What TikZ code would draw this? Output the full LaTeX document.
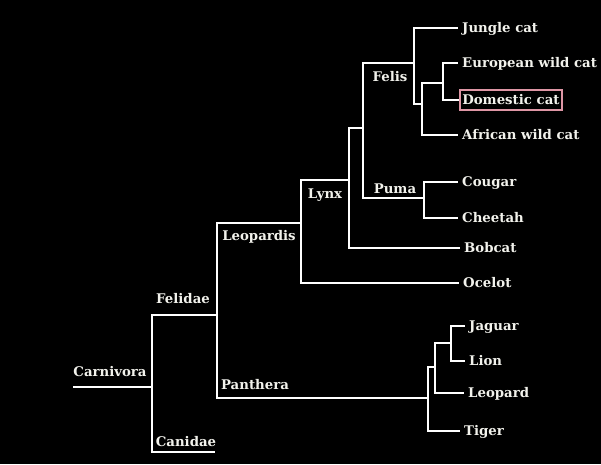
\documentclass[tikz,border=0pt]{standalone}
\usepackage{fontspec}
\setmainfont{DejaVu Serif}
\usetikzlibrary{calc}

\definecolor{boxpink}{RGB}{222,150,165}
\definecolor{labelwhite}{RGB}{242,242,236}

\begin{document}
\begin{tikzpicture}[x=1pt, y=-1pt,
    branch/.style={draw=white, line width=1.6pt},
    taxon/.style={text=labelwhite, font=\bfseries\fontsize{13.3}{16}\selectfont,
      text height=9.7pt, text depth=0pt, inner xsep=0pt, inner ysep=0pt},
    leaf/.style={taxon, anchor=west, inner xsep=4pt}]

  \useasboundingbox (0,0) rectangle (601,464);
  \fill[black] (0,0) rectangle (601,464); % background

  % branch points
  \coordinate (stem) at (73,387); % root tip
  \coordinate (carnivora) at (152,387);
  \coordinate (felidae) at (217,315);
  \coordinate (canidae) at (215,452);
  \coordinate (leopardis) at (301,223);
  \coordinate (panthera) at (428,398);
  \coordinate (lynx) at (349,180);
  \coordinate (felpuma) at (363,128);
  \coordinate (felis) at (414,63);
  \coordinate (felsub) at (422,104);
  \coordinate (wildcats) at (443,83);
  \coordinate (puma) at (424,198);
  \coordinate (bigcats) at (435,367);
  \coordinate (jaglion) at (451,343);

  % tips
  \node[leaf] (jungle) at (458,28) {Jungle cat};
  \node[leaf] (european) at (458,63) {European wild cat};
  \node[taxon, anchor=west, draw=boxpink, line width=1.6pt, inner xsep=2.5pt, inner ysep=5pt]
    (domestic) at (459,100) {Domestic cat};
  \node[leaf] (african) at (458,135) {African wild cat};
  \node[leaf] (cougar) at (458,182) {Cougar};
  \node[leaf] (cheetah) at (458,218) {Cheetah};
  \node[leaf] (bobcat) at (460,248) {Bobcat};
  \node[leaf] (ocelot) at (459,283) {Ocelot};
  \node[leaf] (jaguar) at (465,326) {Jaguar};
  \node[leaf] (lion) at (465,361) {Lion};
  \node[leaf] (leopard) at (464,393) {Leopard};
  \node[leaf] (tiger) at (460,431) {Tiger};

  % clade names
  \node[taxon] (felisname) at (390,77) {Felis};
  \node[taxon] (pumaname) at (395,189) {Puma};
  \node[taxon] (lynxname) at (325,194) {Lynx};
  \node[taxon] (leopardisname) at (259,236) {Leopardis};
  \node[taxon] (felidaename) at (183,299) {Felidae};
  \node[taxon] (carnivoraname) at (110,372) {Carnivora};
  \node[taxon] (pantheraname) at (255,385) {Panthera};
  \node[taxon] (canidaename) at (186,442) {Canidae};

  \draw[branch] (stem) -- (carnivora);
  \draw[branch] (carnivora) |- (felidae);
  \draw[branch] (carnivora) |- (canidae);
  \draw[branch] (felidae) |- (leopardis);
  \draw[branch] (felidae) |- (panthera);
  \draw[branch] (leopardis) |- (lynx);
  \draw[branch] (leopardis) |- (ocelot.west);
  \draw[branch] (lynx) |- (felpuma);
  \draw[branch] (lynx) |- (bobcat.west);
  \draw[branch] (felpuma) |- (felis);
  \draw[branch] (felpuma) |- (puma);
  \draw[branch] (felis) |- (jungle.west);
  \draw[branch] (felis) |- (felsub);
  \draw[branch] (felsub) |- (wildcats);
  \draw[branch] (felsub) |- (african.west);
  \draw[branch] (wildcats) |- (european.west);
  \draw[branch] (wildcats) |- (domestic.west);
  \draw[branch] (puma) |- (cougar.west);
  \draw[branch] (puma) |- (cheetah.west);
  \draw[branch] (panthera) |- (tiger.west);
  \draw[branch] (panthera) |- (bigcats);
  \draw[branch] (bigcats) |- (leopard.west);
  \draw[branch] (bigcats) |- (jaglion);
  \draw[branch] (jaglion) |- (jaguar.west);
  \draw[branch] (jaglion) |- (lion.west);
\end{tikzpicture}
\end{document}
